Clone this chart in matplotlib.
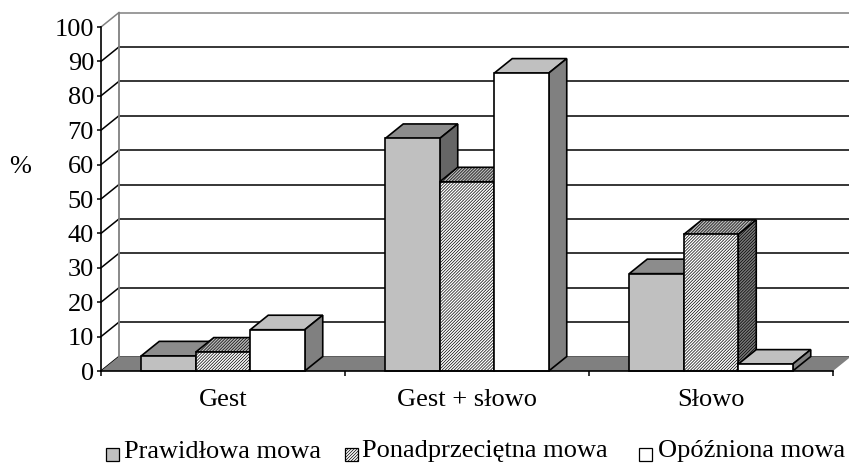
import matplotlib
matplotlib.use('Agg')
import matplotlib.pyplot as plt
from matplotlib.patches import Polygon, Rectangle

plt.rcParams['font.family'] = ['Liberation Serif', 'DejaVu Serif']
plt.rcParams['hatch.linewidth'] = 0.5

categories = ['Gest', 'Gest + słowo', 'Słowo']
prawidlowa = [4.4, 67.6, 28.3]
ponad = [5.5, 55.0, 39.7]
opozniona = [12.0, 86.6, 2.0]
series_names = ['Prawidłowa mowa', 'Ponadprzeciętna mowa', 'Opóźniona mowa']
yticks = [0, 10, 20, 30, 40, 50, 60, 70, 80, 90, 100]

W, H = 849, 463
fig = plt.figure(figsize=(W / 100, H / 100), dpi=100)
# front plane of the 3d box, pixels
ax = fig.add_axes([101 / W, (H - 371) / H, 732 / W, 344 / H])
ax.set_xlim(0, 3)
ax.set_ylim(0, 100)

# depth of the fake 3d in data units
dx = 18 / 244
dy = 14.5 / 3.44
bw = 54.5 / 244
hatch = '/' * 11


def box(x0, w, v, front, top, side, ht=None, z=3):
    x1 = x0 + w
    ax.add_patch(Polygon([(x0, v), (x1, v), (x1 + dx, v + dy), (x0 + dx, v + dy)],
                         facecolor=top, edgecolor='k', lw=1.2, hatch=ht, zorder=z, clip_on=False))
    ax.add_patch(Polygon([(x1, 0), (x1 + dx, dy), (x1 + dx, v + dy), (x1, v)],
                         facecolor=side, edgecolor='k', lw=1.2, hatch=ht, zorder=z, clip_on=False))
    ax.add_patch(Rectangle((x0, 0), w, v, facecolor=front, edgecolor='k', lw=1.2,
                           hatch=ht, zorder=z, clip_on=False))


# back wall and floor
for v in yticks:
    c = '#808080' if v == 100 else 'k'
    ax.plot([dx, 3 + dx], [v + dy, v + dy], color=c, lw=1.1, zorder=1, clip_on=False)
    ax.plot([0, dx], [v, v + dy], color=c, lw=1.1, zorder=1, clip_on=False)
ax.plot([dx, dx], [dy, 100 + dy], color='#808080', lw=1.3, zorder=1, clip_on=False)
ax.add_patch(Polygon([(0, 0), (3, 0), (3 + dx, dy), (dx, dy)], facecolor='#808080',
                     edgecolor='none', zorder=2, clip_on=False))

for i in range(len(categories)):
    x0 = i + 0.5 - 1.5 * bw
    box(x0, bw, prawidlowa[i], '#c0c0c0', '#8c8c8c', '#666666', z=3 + i * 3)
    box(x0 + bw, bw, ponad[i], 'white', '#b8b8b8', '#7a7a7a', ht=hatch, z=4 + i * 3)
    box(x0 + 2 * bw, bw, opozniona[i], 'white', '#c0c0c0', '#808080', z=5 + i * 3)

for s in ['top', 'right']:
    ax.spines[s].set_visible(False)
for s in ['left', 'bottom']:
    ax.spines[s].set_linewidth(1.2)
    ax.spines[s].set_zorder(20)

ax.set_yticks(yticks)
ax.set_xticks([0, 1, 2, 3])
ax.set_xticklabels([])
ax.set_xticks([0.5, 1.5, 2.5], minor=True)
ax.set_xticklabels(categories, minor=True)
ax.tick_params(axis='x', which='minor', length=0, pad=13, labelsize=19)
ax.tick_params(axis='x', which='major', length=3.5, width=1.1)
ax.tick_params(axis='y', length=3, width=1.1, pad=2, labelsize=19)

fig.text(20 / W, 1 - 167 / H, '%', fontsize=19, ha='center', va='center')

# legend laid out by hand, like the original
legend_x = [106, 345, 639]
legend_text_x = [124, 362, 658]
legend_style = [('#c0c0c0', None), ('white', hatch), ('white', None)]
for name, lx, tx, (fc, ht) in zip(series_names, legend_x, legend_text_x, legend_style):
    fig.add_artist(Rectangle((lx / W, 1 - 461 / H), 12.5 / W, 13 / H, transform=fig.transFigure,
                             facecolor=fc, edgecolor='k', lw=0.9, hatch=ht))
    fig.text(tx / W, 1 - 451.5 / H, name, fontsize=19, ha='left', va='center')

fig.savefig('out.png', dpi=100)
